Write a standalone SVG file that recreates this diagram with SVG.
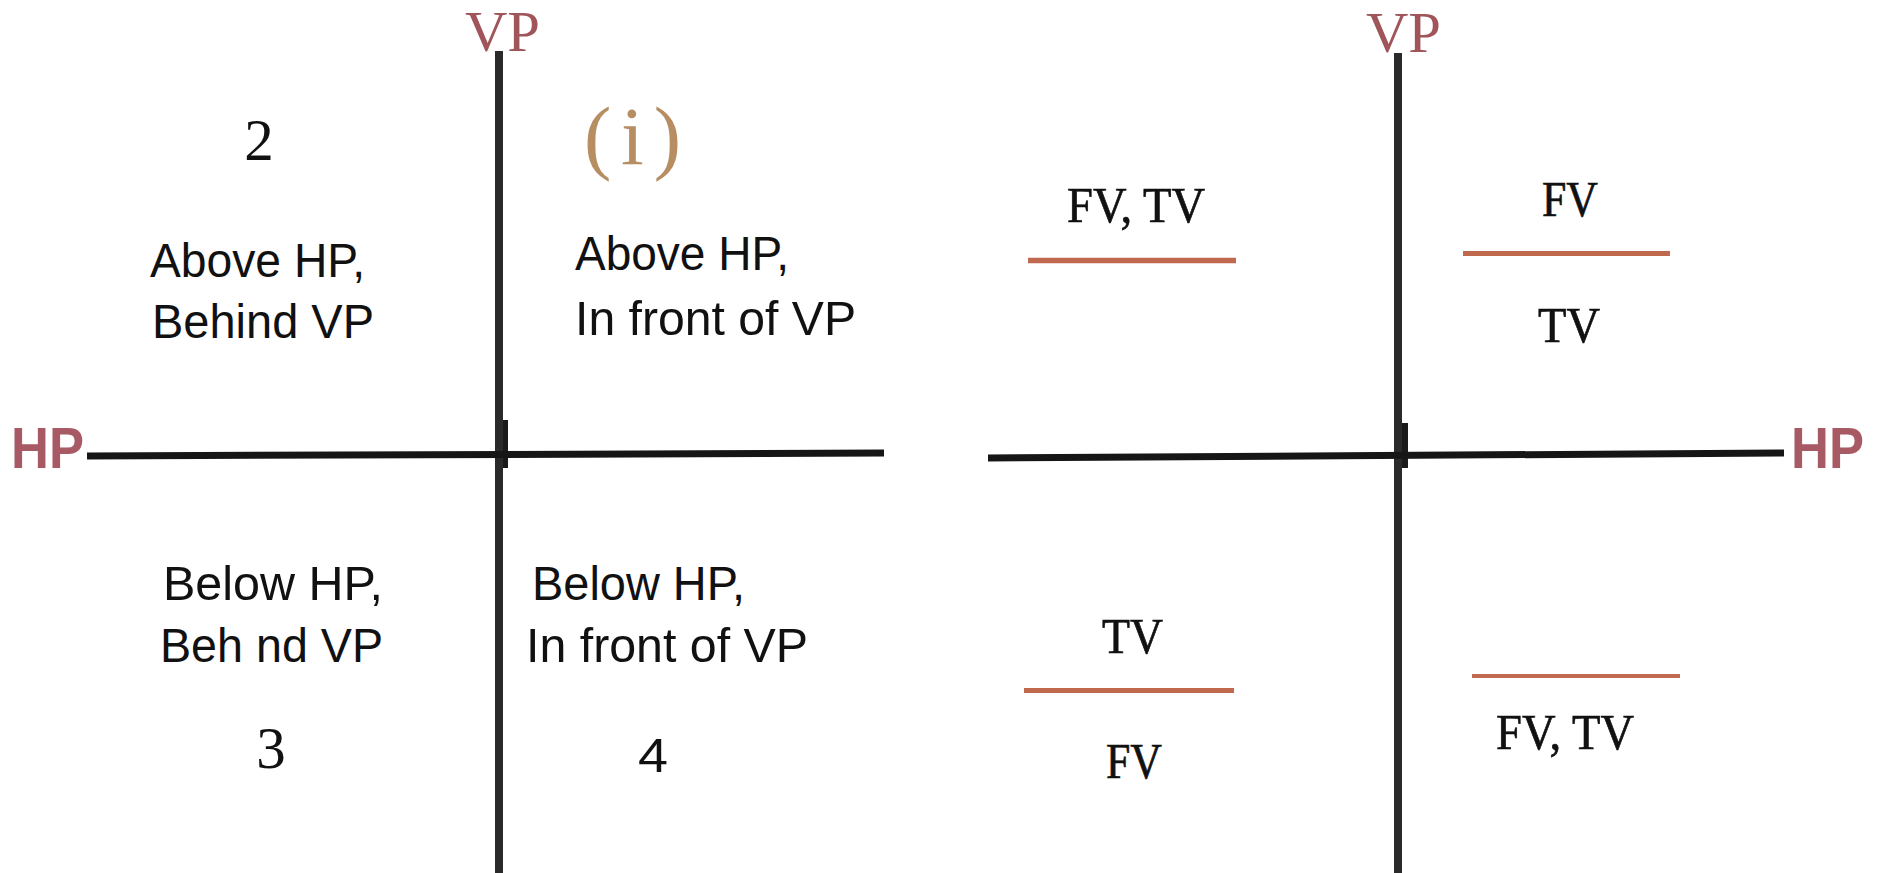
<svg xmlns="http://www.w3.org/2000/svg" width="1877" height="873" viewBox="0 0 1877 873">
<style>
.axis{stroke:#161616;stroke-width:7;fill:none}
.vp{stroke:#2a2a2a;stroke-width:8;fill:none}
.tick{fill:#1a1a1a}
.seg{stroke:#c0694e;fill:none}
.vpl{font-family:"Liberation Serif","Times New Roman",serif;font-size:58px;fill:#a0555a}
.hpl{font-family:"Liberation Sans",Arial,sans-serif;font-weight:bold;font-size:58px;fill:#a85a64}
.q{font-family:"Liberation Sans",Arial,sans-serif;font-size:48px;fill:#111}
.num{font-family:"Liberation Serif","Times New Roman",serif;font-size:59px;fill:#111}
.v{font-family:"Liberation Serif","Times New Roman",serif;font-size:51px;fill:#111;stroke:#111;stroke-width:0.7}
.roman{font-family:"Liberation Serif","Times New Roman",serif;font-size:82px;fill:#b78d62}
</style>
<rect width="1877" height="873" fill="#ffffff"/>
<g id="connectors">
<line class="vp" x1="499" y1="51" x2="499" y2="873"/>
<rect class="tick" x="503" y="420" width="5" height="48"/>
<line class="axis" x1="87" y1="456" x2="884" y2="453"/>
<line class="vp" x1="1398" y1="53" x2="1398" y2="873"/>
<rect class="tick" x="1402" y="423" width="6" height="45"/>
<line class="axis" x1="988" y1="458" x2="1784" y2="453"/>
<line class="seg" x1="1028" y1="260.5" x2="1236" y2="260.5" stroke-width="5.5"/>
<line class="seg" x1="1463" y1="253.5" x2="1670" y2="253.5" stroke-width="5"/>
<line class="seg" x1="1024" y1="690.5" x2="1234" y2="690.5" stroke-width="5"/>
<line class="seg" x1="1472" y1="676" x2="1680" y2="676" stroke-width="4"/>
</g>
<g id="vp-left"><text class="vpl" x="465" y="51" textLength="75" lengthAdjust="spacingAndGlyphs">VP</text></g>
<g id="vp-right"><text class="vpl" x="1366" y="52" textLength="75" lengthAdjust="spacingAndGlyphs">VP</text></g>
<g id="hp-left"><text class="hpl" x="11" y="468" textLength="73" lengthAdjust="spacingAndGlyphs">HP</text></g>
<g id="hp-right"><text class="hpl" x="1791" y="468" textLength="73" lengthAdjust="spacingAndGlyphs">HP</text></g>
<g id="roman-i"><text class="roman" x="584" y="164" textLength="97" lengthAdjust="spacing">(i)</text></g>
<g id="q2">
<text class="num" x="259" y="160" text-anchor="middle">2</text>
<text class="q" x="150" y="277" textLength="215" lengthAdjust="spacingAndGlyphs">Above HP,</text>
<text class="q" x="152" y="338" textLength="222" lengthAdjust="spacingAndGlyphs">Behind VP</text>
</g>
<g id="q1">
<text class="q" x="575" y="270" textLength="214" lengthAdjust="spacingAndGlyphs">Above HP,</text>
<text class="q" x="575" y="335" textLength="281" lengthAdjust="spacingAndGlyphs">In front of VP</text>
</g>
<g id="q3">
<text class="q" x="163" y="600" textLength="220" lengthAdjust="spacingAndGlyphs">Below HP,</text>
<text class="q" x="160" y="662" textLength="223" lengthAdjust="spacingAndGlyphs">Beh nd VP</text>
<text class="num" x="271" y="768" text-anchor="middle">3</text>
</g>
<g id="q4">
<text class="q" x="532" y="600" textLength="213" lengthAdjust="spacingAndGlyphs">Below HP,</text>
<text class="q" x="526" y="662" textLength="282" lengthAdjust="spacingAndGlyphs">In front of VP</text>
<text class="q" x="638" y="772" font-size="56" textLength="30" lengthAdjust="spacingAndGlyphs">4</text>
</g>
<g id="case-q2"><text class="v" x="1067" y="222" textLength="138" lengthAdjust="spacingAndGlyphs">FV, TV</text></g>
<g id="case-q1-fv"><text class="v" x="1542" y="216" textLength="56" lengthAdjust="spacingAndGlyphs">FV</text></g>
<g id="case-q1-tv"><text class="v" x="1538" y="342" textLength="62" lengthAdjust="spacingAndGlyphs">TV</text></g>
<g id="case-q3-tv"><text class="v" x="1102" y="653" textLength="61" lengthAdjust="spacingAndGlyphs">TV</text></g>
<g id="case-q3-fv"><text class="v" x="1106" y="778" textLength="56" lengthAdjust="spacingAndGlyphs">FV</text></g>
<g id="case-q4"><text class="v" x="1496" y="749" textLength="138" lengthAdjust="spacingAndGlyphs">FV, TV</text></g>
</svg>
